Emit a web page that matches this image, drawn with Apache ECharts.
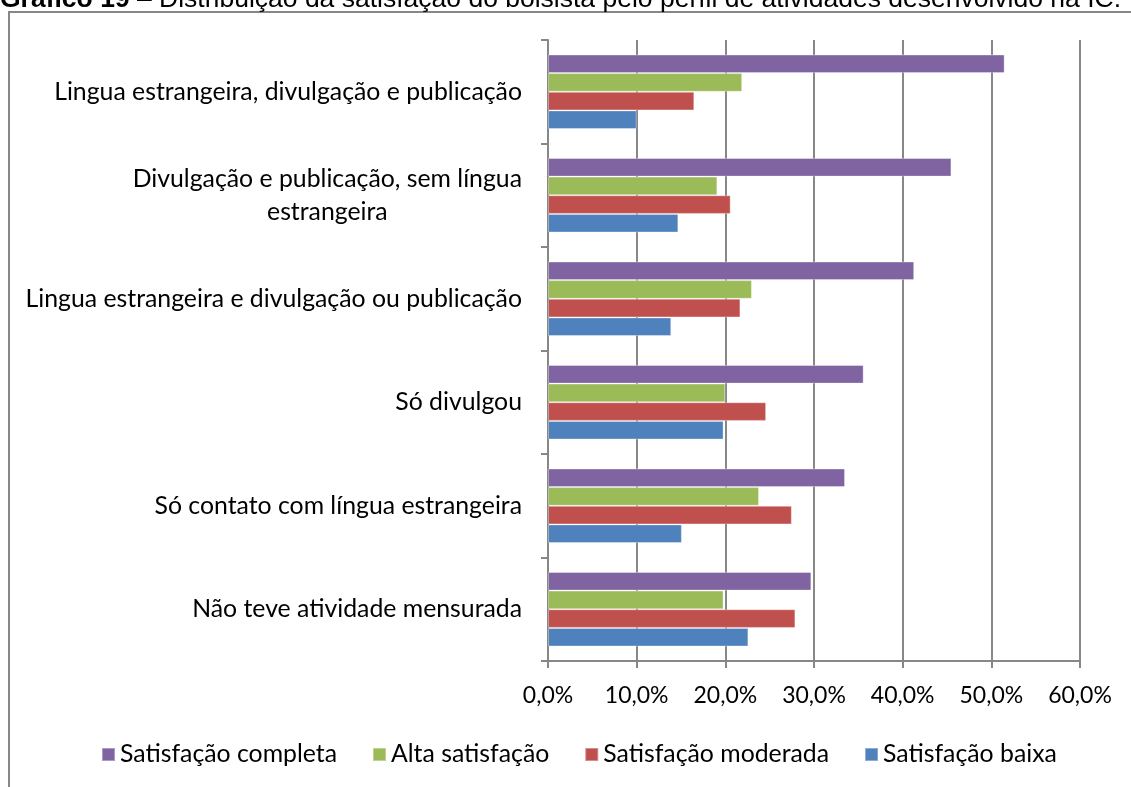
<!DOCTYPE html>
<html>
<head>
<meta charset="utf-8">
<script src="https://cdn.jsdelivr.net/npm/echarts@6/dist/echarts.min.js"></script>
<style>
  html, body { margin: 0; padding: 0; background: #fff; }
  #chart { width: 1131px; height: 787px; }
</style>
</head>
<body>
<div id="chart"></div>
<script>
// categorias, de baixo para cima (como o eixo do ECharts)
const categorias = [
  'Não teve atividade mensurada',
  'Só contato com língua estrangeira',
  'Só divulgou',
  'Lingua estrangeira e divulgação ou publicação',
  'Divulgação e publicação, sem língua\nestrangeira',
  'Lingua estrangeira, divulgação e publicação'
]
const satisfacaoBaixa = [22.6, 15.1, 19.8, 13.9, 14.7, 10.0]
const satisfacaoModerada = [27.9, 27.5, 24.6, 21.7, 20.6, 16.5]
const altaSatisfacao = [19.8, 23.8, 20.0, 23.0, 19.1, 21.9]
const satisfacaoCompleta = [29.7, 33.5, 35.6, 41.3, 45.5, 51.5]
const ticksX = [0, 10, 20, 30, 40, 50, 60]

const fonte = 'Lato, "Open Sans", sans-serif'
const cinza = '#878787'

const myChart = echarts.init(document.getElementById('chart'))

// uma série de barras
function serie(nome, dados, cor) {
  return {
    name: nome,
    type: 'bar',
    data: dados,
    barGap: '0%',
    barCategoryGap: '28%',
    itemStyle: { color: cor, borderColor: 'rgba(255,255,255,0.35)', borderWidth: 1 },
    emphasis: { disabled: true }
  }
}

const options = {
  animation: false,
  textStyle: { fontFamily: fonte },
  grid: { left: 548, right: 51, top: 40, bottom: 126, containLabel: false },
  legend: {
    left: 96,
    top: 737,
    icon: 'rect',
    itemWidth: 13,
    itemHeight: 13,
    itemGap: 35,
    textStyle: { fontFamily: fonte, fontSize: 24.8, color: '#000' },
    data: ['Satisfação completa', 'Alta satisfação', 'Satisfação moderada', 'Satisfação baixa']
  },
  xAxis: {
    type: 'value',
    min: ticksX[0],
    max: ticksX[ticksX.length - 1],
    interval: 10,
    axisLine: { show: true, lineStyle: { color: cinza, width: 2 } },
    axisTick: { show: true, length: 7, lineStyle: { color: cinza, width: 2 } },
    splitLine: { show: true, lineStyle: { color: cinza, width: 2 } },
    axisLabel: {
      margin: 23,
      fontFamily: fonte,
      fontSize: 23,
      color: '#000',
      formatter: v => v.toFixed(1).replace('.', ',') + '%'
    }
  },
  yAxis: {
    type: 'category',
    data: categorias,
    axisLine: { show: true, lineStyle: { color: cinza, width: 2 } },
    axisTick: { show: true, length: 7, lineStyle: { color: cinza, width: 2 } },
    axisLabel: {
      margin: 26,
      fontFamily: fonte,
      fontSize: 24.8,
      color: '#000',
      lineHeight: 33,
      formatter: v => v.indexOf('\n') >= 0
        ? v.split('\n').map(l => '{c|' + l + '}').join('\n')
        : v,
      rich: { c: { align: 'center', fontFamily: fonte, fontSize: 24.8, color: '#000', lineHeight: 33 } }
    }
  },
  graphic: [
    {
      type: 'rect',
      shape: { x: 9, y: 12, width: 1200, height: 900 },
      style: { fill: 'none', stroke: cinza, lineWidth: 2 },
      silent: true
    },
    {
      type: 'text',
      left: 0,
      top: -14,
      silent: true,
      style: {
        text: '{b|Gráfico 19} – Distribuição da satisfação do bolsista pelo perfil de atividades desenvolvido na IC.',
        font: '26.5px "Liberation Sans", Arial, sans-serif',
        fill: '#000',
        rich: { b: { fontWeight: 'bold', fontFamily: '"Liberation Sans", Arial, sans-serif', fontSize: 26.5 } }
      }
    }
  ],
  // a primeira série fica no topo de cada grupo
  series: [
    serie('Satisfação completa', satisfacaoCompleta, '#8064A2'),
    serie('Alta satisfação', altaSatisfacao, '#9BBB59'),
    serie('Satisfação moderada', satisfacaoModerada, '#C0504D'),
    serie('Satisfação baixa', satisfacaoBaixa, '#4F81BD')
  ]
}

myChart.setOption(options)
</script>
</body>
</html>
